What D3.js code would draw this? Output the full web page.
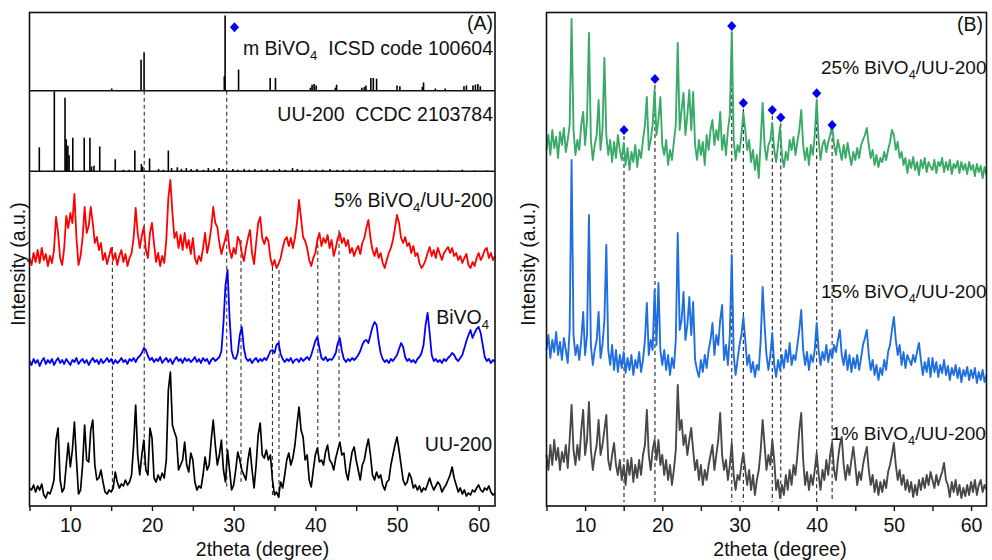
<!DOCTYPE html>
<html>
<head>
<meta charset="utf-8">
<script src="https://cdn.jsdelivr.net/npm/d3@7/dist/d3.min.js"></script>
<style>
  html, body { margin: 0; padding: 0; background: #fff; }
  svg { display: block; font-family: "Liberation Sans", Arial, Helvetica, sans-serif; }
  text { white-space: pre; }
</style>
</head>
<body>
<svg id="chart" width="992" height="560"></svg>
<script>
// ---- scan settings (2theta grid of the measured patterns) ----
const scanStart = 5;
const scanStep = 0.25;

// ---- axis ticks ----
const tickValues = [5, 10, 15, 20, 25, 30, 35, 40, 45, 50, 55, 60];
const tickLabels = ["", "10", "", "20", "", "30", "", "40", "", "50", "", "60"];

// ---- panel A measured patterns (a.u., 5.00–62.00 deg) ----
const pattern5pct = [
  10,3,15,6,18,5,20,8,14,2,12,5,18,51,35,10,3,20,52,40,
  55,45,74,30,3,12,30,61,35,42,61,45,25,31,18,25,8,15,4,12,
  20,8,15,3,12,18,6,14,2,10,15,30,60,35,20,32,41,18,10,35,
  45,24,6,15,2,12,5,28,70,88,55,30,36,20,33,18,35,20,28,14,
  30,10,4,12,7,20,35,15,25,40,61,45,41,25,14,22,30,38,18,10,
  20,14,31,27,15,7,20,30,38,15,4,25,45,51,30,24,31,27,10,2,
  8,0,4,10,20,28,31,22,30,20,30,45,68,50,31,27,20,8,2,10,
  15,28,35,22,30,25,33,20,28,12,20,30,35,25,30,22,28,15,20,12,
  18,22,14,25,30,40,48,30,18,12,20,10,15,5,0,8,15,20,28,40,
  53,45,30,25,31,22,25,15,22,12,15,5,0,3,8,15,21,12,18,10,
  20,14,8,15,18,21,15,20,12,15,8,12,5,10,14,3,0,6,2,10,
  15,8,12,18,20,10,15,8,12
];
const patternBiVO4 = [
  2,-2,4,0,3,-3,2,5,-1,3,0,4,-2,2,5,0,3,-1,4,1,
  -2,3,1,5,-1,2,4,0,3,-2,2,5,1,3,-1,4,0,2,5,1,
  4,-1,3,0,2,5,1,3,-1,4,2,5,1,5,7,10,15,13,7,3,
  5,1,4,2,6,0,3,5,1,4,-1,3,6,2,4,0,5,2,4,1,
  3,6,1,4,0,5,2,4,-1,3,5,2,4,6,12,40,78,93,45,12,
  5,4,10,28,36,15,5,2,4,0,3,5,1,4,2,5,3,7,12,13,
  10,18,20,9,4,1,4,2,5,0,3,4,1,5,2,4,6,3,8,15,
  22,26,15,5,3,6,2,4,3,6,10,20,25,12,4,1,4,2,5,3,
  5,8,12,18,22,23,20,28,36,41,38,22,10,4,1,3,0,4,2,5,
  8,14,20,16,6,2,4,1,3,0,4,6,10,18,38,50,30,8,2,4,
  1,3,0,4,2,5,7,10,8,4,2,5,8,15,22,28,33,25,30,34,
  36,30,18,6,2,4,0,3,1
];
const patternUU200 = [
  12,10,15,8,14,10,16,5,2,8,6,12,20,60,72,20,8,12,35,57,
  33,50,78,40,6,10,35,75,40,38,70,80,35,20,22,30,18,8,6,10,
  8,12,28,18,12,16,14,20,15,18,25,55,95,45,25,45,60,30,25,72,
  62,22,18,25,20,27,22,40,110,128,75,68,62,30,35,40,58,35,28,47,
  40,18,10,14,12,25,43,30,35,60,80,55,35,45,60,30,18,50,30,10,
  15,30,48,40,30,25,20,40,52,30,12,35,65,77,45,42,50,40,45,20,
  5,8,3,18,12,25,40,47,35,42,55,75,93,70,63,40,45,20,13,30,
  45,52,38,40,35,48,55,40,37,30,42,50,58,45,47,28,20,35,48,53,
  40,30,20,35,40,52,61,45,25,20,28,22,25,15,10,18,20,35,45,55,
  63,50,35,20,15,18,27,22,12,15,10,14,8,12,10,16,22,15,10,14,
  18,15,8,12,15,20,25,33,22,15,8,12,6,10,4,7,5,10,8,12,
  15,10,8,12,10,14,8,5,7
];

// ---- panel B measured patterns (a.u., 5.00–62.00 deg) ----
const pattern25pct = [
  20,35,15,40,22,33,12,38,25,42,18,30,45,151,40,15,30,20,45,58,
  25,50,137,30,10,25,35,70,20,40,112,35,15,30,8,28,12,35,20,10,
  27,5,22,0,18,8,25,3,20,12,30,45,73,20,30,45,80,35,50,73,
  25,15,30,5,20,10,28,45,127,40,60,77,35,55,80,40,78,25,10,30,
  15,28,5,35,20,40,50,25,40,30,58,20,35,15,40,55,138,30,10,25,
  18,35,57,40,20,30,8,20,0,15,-8,30,67,25,10,25,30,47,20,8,
  25,43,15,3,18,10,30,20,33,15,28,40,60,25,10,22,5,25,15,35,
  70,30,10,25,30,18,28,35,45,25,15,30,20,10,25,12,27,15,5,18,
  10,22,12,25,30,35,42,25,12,20,5,15,3,12,8,18,10,20,28,40,
  35,20,28,12,18,5,12,-3,10,2,13,0,8,-5,10,2,12,-2,8,3,
  0,10,-3,8,4,12,-2,8,0,10,-4,6,2,9,-3,8,0,6,-4,8,
  0,5,-6,6,-2,4,-8,3,-5
];
const pattern15pct = [
  30,45,22,40,28,48,25,38,20,42,30,17,50,220,45,25,35,20,40,68,
  25,45,165,35,15,30,40,68,22,35,60,135,30,15,35,10,30,8,25,12,
  28,7,22,10,25,5,20,12,28,8,20,40,77,25,40,30,90,35,97,30,
  15,30,10,25,5,22,12,40,147,50,60,88,40,55,83,45,78,20,10,3,
  20,8,25,12,30,40,57,25,45,35,60,75,20,35,15,45,125,25,5,20,
  35,45,63,40,15,25,8,18,3,15,10,40,93,55,25,10,25,47,15,3,
  20,10,25,12,30,18,37,15,25,20,35,50,70,30,15,28,10,25,18,30,
  57,30,15,28,20,35,18,30,22,35,28,40,50,25,15,30,10,25,8,22,
  12,25,10,22,35,42,50,25,10,20,5,15,0,12,5,20,10,28,35,50,
  63,40,25,35,15,28,12,25,20,15,25,18,28,37,20,5,18,8,22,3,
  22,8,18,3,15,7,20,5,14,0,12,5,15,2,12,-2,10,4,13,0,
  10,2,12,-3,8,0,10,-2,5
];
const pattern1pct = [
  45,30,55,35,60,40,52,30,48,38,55,32,60,95,50,35,55,40,70,90,
  45,60,98,50,30,45,55,80,45,55,70,85,40,30,45,57,35,25,40,20,
  35,15,40,25,42,18,35,22,40,25,45,55,90,45,30,50,60,40,60,35,
  45,25,40,20,35,15,30,50,115,70,80,55,65,45,60,72,50,30,40,20,
  35,15,30,20,35,45,55,30,45,60,87,45,30,40,20,35,57,25,10,25,
  20,35,47,30,15,30,10,25,5,20,30,50,80,55,30,45,35,60,40,10,
  20,2,15,5,25,10,30,15,35,25,45,70,87,40,15,28,10,25,15,30,
  47,25,10,30,20,40,25,45,57,30,20,40,55,63,35,20,35,25,40,53,
  35,15,28,20,35,45,53,30,15,25,8,20,5,18,8,20,12,28,35,45,
  57,35,20,30,15,25,10,20,8,18,3,15,5,20,10,22,12,25,15,28,
  20,12,25,15,22,28,37,20,15,3,18,8,20,5,15,2,12,4,15,5,
  18,8,20,5,15,20,8,15,10
];

// ---- reference patterns: [2theta, relative intensity] ----
const refBiVO4 = [
  [15.07,3],[18.66,41],[19.03,51],[28.85,19],[28.95,100],[30.6,28],[34.47,17],[35.12,17],
  [39.4,4],[39.6,8],[39.85,9],[40.1,7],[42.45,4],[42.6,8],[45.7,4],[46.0,5],[46.2,7],
  [46.8,17],[47.1,17],[47.5,16],[50.0,7],[50.35,6],[53.1,5],[53.25,11],[54.7,3],[55.9,3],
  [58.2,6],[58.5,7],[59.3,7],[59.6,8],[59.9,9],[60.2,6]
];
const refUU200 = [
  [6.2,30],[8.04,100],[9.35,92],[9.5,40],[9.7,32],[9.85,20],[10.3,42],[11.7,42],[12.4,42],
  [12.6,6],[12.9,7],[13.6,31],[15.5,15],[16.5,2],[17.2,2],[17.9,26],[18.7,9],[18.85,6],
  [19.7,16],[20.8,3],[21.4,2],[22.0,26],[22.4,4],[23.1,5],[23.6,3],[24.2,4],[24.8,3],
  [25.5,3],[26.3,2],[26.9,4],[27.6,3],[28.2,4],[28.7,3],[29.9,3],[30.5,2],[31.3,3],
  [31.9,2],[32.6,3],[33.4,2],[34.1,3],[34.9,2],[35.6,3],[36.3,2],[37.2,4],[37.8,3],
  [38.4,2],[39.3,2],[40.1,2],[40.9,2],[41.8,3],[42.7,2],[43.4,2],[44.2,2],[45.1,2],
  [46.0,2],[47.3,2],[48.5,2],[49.6,2],[50.8,2],[52.1,2],[53.5,1],[55.0,2],[56.4,1],
  [58.0,2],[59.5,1],[61.0,1]
];

// ---- vertical stacking offsets (a.u.) ----
const offsetsA = { p5: 238, bivo4: 143, uu200: 6 };
const offsetsB = { p25: 336, p15: 126, p1: 6 };

// ---- BiVO4 reflections marked with dashed guides ----
// [2theta, upper level, lower level] in panel A stacking units ("ref" = from the reference panel)
const guidesA = [
  [15.15, 259, 16], [19.05, "ref", 41], [29.15, "ref", 16], [30.9, 266, 23],
  [34.75, 239, 8], [35.55, 236, 8], [40.3, 269, 56], [42.9, 276, 66]
];
// [2theta, marker level] in panel B stacking units
const markersB = [
  [15.04, 376], [19.05, 427], [29.0, 480], [30.5, 403],
  [34.25, 396], [35.35, 388.5], [40.0, 412.7], [42.0, 381]
];
const markerA = [30.1, 84.5];

// ---- colours ----
const colors = {
  p5: "#ff0000", bivo4: "#0000ff", uu200: "#000000",
  p25: "#3aaa68", p15: "#1f6fe0", p1: "#484848", marker: "#0000ee"
};

// ---------------------------------------------------------------
const svg = d3.select("#chart");
const plotTop = 12.5, plotBottom = 506;
const fontSize = 19.5;

const xA = d3.scaleLinear().domain([5, 62]).range([29.5, 495]);
const xB = d3.scaleLinear().domain([5, 62]).range([546.5, 986.5]);
const yA = d3.scaleLinear().domain([0, 334.7]).range([plotBottom, 171.3]);
const yB = d3.scaleLinear().domain([0, 493.5]).range([plotBottom, plotTop]);
const yRefBi = d3.scaleLinear().domain([0, 104]).range([90.7, plotTop]);
const yRefUU = d3.scaleLinear().domain([0, 100.75]).range([171.3, 90.7]);

const angle = i => scanStart + i * scanStep;
const diamond = "M0,-5L4.6,0L0,5L-4.6,0Z";

function drawPattern(g, values, x, y, offset, color, width) {
  const line = d3.line().x((d, i) => x(angle(i))).y(d => y(d + offset));
  g.append("path").datum(values)
    .attr("d", line).attr("fill", "none")
    .attr("stroke", color).attr("stroke-width", width)
    .attr("stroke-linejoin", "round");
}

function drawSticks(g, data, x, y, color) {
  g.selectAll(null).data(data).enter().append("line")
    .attr("x1", d => x(d[0])).attr("x2", d => x(d[0]))
    .attr("y1", y(0)).attr("y2", d => y(d[1]))
    .attr("stroke", color).attr("stroke-width", 1.6);
}

function label(g, x, y, parts, anchor, size) {
  const fs = size || fontSize;
  const t = g.append("text").attr("x", x).attr("y", y)
    .attr("text-anchor", anchor || "start").attr("font-size", fs).attr("fill", "#111");
  let shifted = false;
  parts.forEach(p => {
    if (typeof p === "string") {
      t.append("tspan").attr("dy", shifted ? -5 : 0).text(p);
      shifted = false;
    } else {
      t.append("tspan").attr("dy", 5).attr("font-size", fs * 0.67).text(p.sub);
      shifted = true;
    }
  });
  return t;
}

function drawAxis(g, x) {
  const axis = d3.axisBottom(x).tickValues(tickValues)
    .tickFormat((d, i) => tickLabels[i]).tickSize(5).tickSizeOuter(0).tickPadding(7.5);
  const a = g.append("g").attr("transform", `translate(0,${plotBottom})`).call(axis);
  a.select(".domain").remove();
  a.selectAll(".tick line").attr("stroke", "#111").attr("stroke-width", 1.4);
  a.selectAll(".tick text").attr("font-size", fontSize).attr("fill", "#111")
    .attr("font-family", "Liberation Sans, Arial, sans-serif");
}

function frame(g, x) {
  const [x0, x1] = x.range();
  g.append("rect").attr("x", x0).attr("y", plotTop)
    .attr("width", x1 - x0).attr("height", plotBottom - plotTop)
    .attr("fill", "none").attr("stroke", "#111").attr("stroke-width", 1.6);
}

// ================= Panel A =================
const gA = svg.append("g");

// dashed guides
gA.selectAll(null).data(guidesA).enter().append("line")
  .attr("x1", d => xA(d[0])).attr("x2", d => xA(d[0]))
  .attr("y1", d => d[1] === "ref" ? yRefBi(0) : yA(d[1]))
  .attr("y2", d => yA(d[2]))
  .attr("stroke", "#333").attr("stroke-width", 1.1).attr("stroke-dasharray", "4,3");

// reference stick patterns
drawSticks(gA, refBiVO4, xA, yRefBi, "#000");
drawSticks(gA, refUU200, xA, yRefUU, "#000");
[yRefBi(0), yRefUU(0)].forEach(yy => {
  gA.append("line").attr("x1", xA.range()[0]).attr("x2", xA.range()[1])
    .attr("y1", yy).attr("y2", yy).attr("stroke", "#111").attr("stroke-width", 1.6);
});
gA.append("path").attr("d", diamond)
  .attr("transform", `translate(${xA(markerA[0])},${yRefBi(markerA[1])})`)
  .attr("fill", colors.marker);

// measured patterns
drawPattern(gA, pattern5pct, xA, yA, offsetsA.p5, colors.p5, 1.8);
drawPattern(gA, patternBiVO4, xA, yA, offsetsA.bivo4, colors.bivo4, 1.8);
drawPattern(gA, patternUU200, xA, yA, offsetsA.uu200, colors.uu200, 1.7);

frame(gA, xA);
drawAxis(gA, xA);

label(gA, 493, 30, ["(A)"], "end");
label(gA, 493, 55, ["m BiVO", {sub: "4"}, "  ICSD code 100604"], "end");
label(gA, 493, 120.7, ["UU-200  CCDC 2103784"], "end");
label(gA, 493, 206.7, ["5% BiVO", {sub: "4"}, "/UU-200"], "end");
label(gA, 489, 324, ["BiVO", {sub: "4"}], "end");
label(gA, 492, 450.7, ["UU-200"], "end");
gA.append("text").attr("x", 262.5).attr("y", 556).attr("text-anchor", "middle")
  .attr("font-size", fontSize).attr("fill", "#111").text("2theta (degree)");
gA.append("text").attr("transform", "translate(24.5,264) rotate(-90)")
  .attr("text-anchor", "middle").attr("font-size", fontSize).attr("fill", "#111")
  .text("Intensity (a.u.)");

// ================= Panel B =================
const gB = svg.append("g");

gB.selectAll(null).data(markersB).enter().append("line")
  .attr("x1", d => xB(d[0])).attr("x2", d => xB(d[0]))
  .attr("y1", d => yB(d[1] - 6)).attr("y2", yB(4))
  .attr("stroke", "#222").attr("stroke-width", 1.1).attr("stroke-dasharray", "4,3");

drawPattern(gB, pattern25pct, xB, yB, offsetsB.p25, colors.p25, 1.9);
drawPattern(gB, pattern15pct, xB, yB, offsetsB.p15, colors.p15, 1.9);
drawPattern(gB, pattern1pct, xB, yB, offsetsB.p1, colors.p1, 1.9);

gB.selectAll(null).data(markersB).enter().append("path")
  .attr("d", diamond)
  .attr("transform", d => `translate(${xB(d[0])},${yB(d[1])})`)
  .attr("fill", colors.marker);

frame(gB, xB);
drawAxis(gB, xB);

label(gB, 983, 31, ["(B)"], "end");
label(gB, 821, 74, ["25% BiVO", {sub: "4"}, "/UU-200"], "start", 19);
label(gB, 821, 298.3, ["15% BiVO", {sub: "4"}, "/UU-200"], "start", 19);
label(gB, 831, 440, ["1% BiVO", {sub: "4"}, "/UU-200"], "start", 19);
gB.append("text").attr("x", 780).attr("y", 556).attr("text-anchor", "middle")
  .attr("font-size", fontSize).attr("fill", "#111").text("2theta (degree)");
gB.append("text").attr("transform", "translate(534.5,264) rotate(-90)")
  .attr("text-anchor", "middle").attr("font-size", fontSize).attr("fill", "#111")
  .text("Intensity (a.u.)");
</script>
</body>
</html>
